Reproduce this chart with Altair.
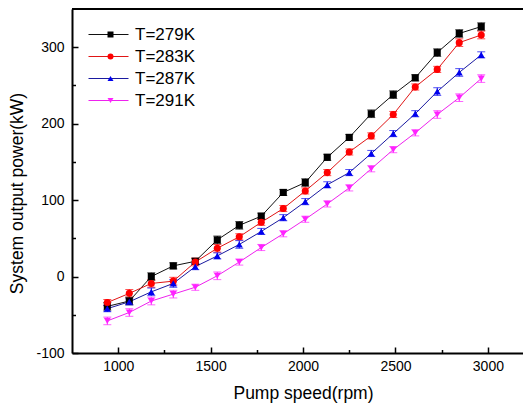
import altair as alt
import pandas as pd

speeds = [941, 1060, 1179, 1298, 1417, 1536, 1655, 1774, 1893, 2012, 2131, 2250, 2369, 2488, 2607, 2726, 2845, 2964]
series_names = ["T=279K", "T=283K", "T=287K", "T=291K"]
p279 = [-39, -32, 0, 14, 20, 48, 67, 79, 110, 123, 156, 182, 213, 238, 260, 293, 318, 327]
p283 = [-34, -22, -9, -6, 19, 37, 52, 71, 89, 112, 136, 163, 184, 212, 248, 271, 306, 316]
p287 = [-42, -33, -20, -9, 13, 27, 42, 59, 77, 98, 120, 136, 161, 187, 213, 242, 267, 290]
p291 = [-58, -47, -32, -23, -14, 1, 19, 38, 56, 75, 95, 116, 141, 166, 188, 212, 234, 259]
e279 = [5, 5, 5, 4, 4, 5, 5, 4, 4, 5, 4, 4, 5, 5, 4, 5, 5, 5]
e283 = [4, 5, 5, 5, 5, 5, 4, 4, 4, 4, 4, 4, 4, 4, 4, 4, 5, 5]
e287 = [4, 4, 5, 5, 4, 4, 5, 4, 4, 4, 4, 4, 4, 4, 4, 5, 5, 4]
e291 = [5, 5, 5, 5, 4, 5, 4, 4, 4, 4, 4, 4, 4, 4, 4, 5, 5, 5]
p_all = [p279, p283, p287, p291]
e_all = [e279, e283, e287, e291]

x_major = [1000, 1500, 2000, 2500, 3000]
x_minor = [1250, 1750, 2250, 2750]
y_major = [-100, 0, 100, 200, 300]
y_minor = [-50, 50, 150, 250]

line_colors = ["#111111", "#e01515", "#1a1aa0", "#ee22ee"]
mark_colors = ["#000000", "#ff0000", "#0000ee", "#ff22ff"]
shapes = ["square", "circle", "triangle-up", "triangle-down"]

rows = []
for name, vals, errs in zip(series_names, p_all, e_all):
    for s, v, e in zip(speeds, vals, errs):
        rows.append({"speed": s, "power": v, "err": e, "T": name, "T2": name})
df = pd.DataFrame(rows)

W, H = 451, 344
FONT = "Liberation Sans"
xscale = alt.Scale(domain=[750, 3190], nice=False, zero=False)
yscale = alt.Scale(domain=[-100, 350], nice=False, zero=False)

base = alt.Chart(df)

lines = base.mark_line(strokeWidth=1).encode(
    x=alt.X("speed:Q", scale=xscale, axis=alt.Axis(
        orient="bottom", values=x_major, ticks=False, labelExpr="datum.value + ''",
        labelPadding=6, title="Pump speed(rpm)", titleFontSize=17.5,
        titleFontWeight="normal", titleFont=FONT, titleX=231, titleY=31, titleColor="#000")),
    y=alt.Y("power:Q", scale=yscale, axis=alt.Axis(
        orient="left", values=y_major, ticks=False, labelExpr="datum.value + ''",
        labelPadding=8, title="System output power(kW)", titleFontSize=17.5,
        titleFontWeight="normal", titleFont=FONT, titleX=-46, titleY=184,
        titleAlign="center", titleColor="#000")),
    stroke=alt.Stroke("T:N", scale=alt.Scale(domain=series_names, range=line_colors),
                      legend=alt.Legend(orient="none", legendX=28, legendY=17, title=None,
                                        symbolType="M-4,0H4", symbolSize=100, symbolStrokeWidth=1,
                                        labelFont=FONT, labelFontSize=17, labelColor="#000",
                                        labelOffset=18, rowPadding=4, padding=0)),
    order="speed:Q",
)

err_rule = base.mark_rule(strokeWidth=1).encode(
    x=alt.X("speed:Q", scale=xscale, axis=None),
    y=alt.Y("lo:Q", scale=yscale, axis=None),
    y2="hi:Q",
    color=alt.Color("T:N", scale=alt.Scale(domain=series_names, range=mark_colors), legend=None),
).transform_calculate(lo="datum.power - datum.err", hi="datum.power + datum.err")

cap_lo = base.mark_tick(size=8, thickness=1, orient="horizontal").encode(
    x=alt.X("speed:Q", scale=xscale, axis=alt.Axis(
        orient="top", offset=-H, values=x_minor, tickSize=3.5,
        labels=False, domain=False, title=None)),
    y=alt.Y("lo:Q", scale=yscale, axis=alt.Axis(
        orient="right", offset=-W, values=y_minor, tickSize=3.5,
        labels=False, domain=False, title=None)),
    color=alt.Color("T:N", scale=alt.Scale(domain=series_names, range=mark_colors), legend=None),
).transform_calculate(lo="datum.power - datum.err")

cap_hi = base.mark_tick(size=8, thickness=1, orient="horizontal").encode(
    x=alt.X("speed:Q", scale=xscale, axis=None),
    y=alt.Y("hi:Q", scale=yscale, axis=None),
    color=alt.Color("T:N", scale=alt.Scale(domain=series_names, range=mark_colors), legend=None),
).transform_calculate(hi="datum.power + datum.err")

legB = alt.Legend(orient="none", legendX=30, legendY=17, title=None,
                  symbolSize=36, labelFont=FONT, labelFontSize=17, labelExpr="''",
                  rowPadding=4, padding=0, symbolStrokeWidth=0)
points = base.mark_point(filled=True, opacity=1, size=50).encode(
    x=alt.X("speed:Q", scale=xscale, axis=alt.Axis(
        orient="top", offset=-H, values=x_major, tickSize=6,
        labels=False, domain=False, title=None)),
    y=alt.Y("power:Q", scale=yscale, axis=alt.Axis(
        orient="right", offset=-W, values=y_major, tickSize=6,
        labels=False, domain=False, title=None)),
    shape=alt.Shape("T2:N", scale=alt.Scale(range=shapes), legend=legB),
    fill=alt.Fill("T2:N", scale=alt.Scale(range=mark_colors), legend=legB),
)

top_border = alt.Chart(df).mark_rule(color="#000", strokeWidth=2).encode(
    x=alt.value(0), x2=alt.value(W), y=alt.value(0)
)

chart = alt.layer(lines, err_rule, cap_lo, cap_hi, points, top_border).properties(
    width=W, height=H,
    autosize=alt.AutoSizeParams(type="none"),
    padding={"left": 64, "top": 1, "right": 0, "bottom": 55},
).configure_view(strokeWidth=0).configure_axis(
    domainColor="#000", domainWidth=2, tickColor="#000", tickWidth=1.5,
    labelFont=FONT, labelFontSize=14, labelColor="#000", grid=False,
)

chart.save("out.html", embed_options={"renderer": "svg", "actions": False})
